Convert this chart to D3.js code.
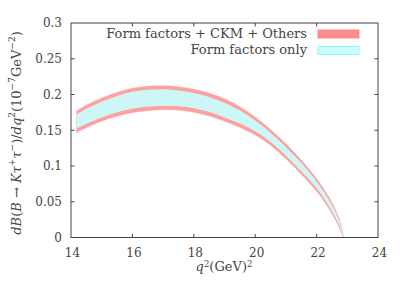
<!DOCTYPE html>
<html>
<head>
<meta charset="utf-8">
<script src="https://cdn.jsdelivr.net/npm/d3@7"></script>
<style>
  body { margin: 0; background: #fff; }
  text { font-family: 'DejaVu Serif', serif; fill: #444; }
</style>
</head>
<body>
<script>
// q^2 points and band edges
const q2 = [14.18, 14.5, 15, 15.5, 16, 16.5, 17, 17.5, 18, 18.5, 19, 19.5, 20, 20.5, 21, 21.5, 21.8, 22.1, 22.4, 22.65, 22.8, 22.87]
// form factors + CKM + others (outer band)
const redTop = [0.177, 0.185, 0.195, 0.203, 0.2087, 0.2115, 0.2122, 0.211, 0.2075, 0.202, 0.194, 0.183, 0.1685, 0.151, 0.131, 0.1085, 0.0935, 0.0764, 0.0566, 0.0354, 0.0174, 0.0027]
const redBot = [0.1466, 0.1535, 0.1625, 0.1695, 0.1745, 0.1772, 0.1785, 0.178, 0.1752, 0.170, 0.1625, 0.154, 0.1435, 0.129, 0.110, 0.0885, 0.0745, 0.0594, 0.0401, 0.0214, 0.0074, 0.0007]
// form factors only (inner band)
const cyanTop = [0.172, 0.180, 0.190, 0.198, 0.2037, 0.2065, 0.2072, 0.2055, 0.202, 0.1965, 0.1885, 0.1775, 0.1635, 0.1465, 0.1265, 0.1045, 0.0895, 0.0724, 0.0531, 0.0324, 0.0149, 0.0017]
const cyanBot = [0.152, 0.159, 0.168, 0.175, 0.180, 0.1827, 0.184, 0.1835, 0.1807, 0.1755, 0.168, 0.1595, 0.1485, 0.1335, 0.1145, 0.0925, 0.0785, 0.0634, 0.0436, 0.0244, 0.0094, 0.0009]

const xTicks = [14, 16, 18, 20, 22, 24]
const yTicks = [0, 0.05, 0.1, 0.15, 0.2, 0.25, 0.3]
const legendLabels = ['Form factors + CKM + Others', 'Form factors only']

const w = 407
const h = 285
const pL = 71, pR = 378, pT = 23, pB = 237.5

const xScale = d3.scaleLinear().domain([14, 24]).range([pL, pR])
const yScale = d3.scaleLinear().domain([0, 0.3]).range([pB, pT])

const svg = d3.select('body').append('svg')
    .attr('width', w)
    .attr('height', h)

// bands
const band = (hi, lo) => d3.area()
    .x((d, i) => xScale(q2[i]))
    .y0((d, i) => yScale(lo[i]))
    .y1((d, i) => yScale(hi[i]))
    .curve(d3.curveCatmullRom)

svg.append('path')
    .attr('d', band(redTop, redBot)(q2))
    .attr('fill', '#ffa0a0')
    .attr('stroke', '#ffa0a0')
    .attr('stroke-width', 0.3)

svg.append('path')
    .attr('d', band(cyanTop, cyanBot)(q2))
    .attr('fill', '#cdf7f7')

// frame, ticks inside on every side
const frame = svg.append('g').attr('stroke', '#444').attr('stroke-width', 1)
frame.append('rect')
    .attr('x', pL).attr('y', pT)
    .attr('width', pR - pL).attr('height', pB - pT)
    .attr('fill', 'none')

xTicks.slice(1, -1).forEach(t => {
    frame.append('line').attr('x1', xScale(t)).attr('x2', xScale(t)).attr('y1', pB).attr('y2', pB - 3.5)
    frame.append('line').attr('x1', xScale(t)).attr('x2', xScale(t)).attr('y1', pT).attr('y2', pT + 3.5)
})
yTicks.slice(1, -1).forEach(t => {
    frame.append('line').attr('x1', pL).attr('x2', pL + 3.5).attr('y1', yScale(t)).attr('y2', yScale(t))
    frame.append('line').attr('x1', pR).attr('x2', pR - 3.5).attr('y1', yScale(t)).attr('y2', yScale(t))
})

svg.selectAll('.xt')
    .data(xTicks)
    .enter()
    .append('text')
    .attr('x', d => xScale(d) + 1.5)
    .attr('y', 257)
    .attr('text-anchor', 'middle')
    .attr('font-size', 12)
    .text(d => d)

svg.selectAll('.yt')
    .data(yTicks)
    .enter()
    .append('text')
    .attr('x', 62)
    .attr('y', d => yScale(d) + 4.4)
    .attr('text-anchor', 'end')
    .attr('font-size', 12)
    .text(d => d)

// x title
const xt = svg.append('text')
    .attr('x', 224)
    .attr('y', 271)
    .attr('text-anchor', 'middle')
    .attr('font-size', 13)
xt.append('tspan').attr('font-style', 'italic').text('q')
xt.append('tspan').attr('font-size', 8.5).attr('dy', -4.5).text('2')
xt.append('tspan').attr('dy', 4.5).text('(GeV)')
xt.append('tspan').attr('font-size', 8.5).attr('dy', -4.5).text('2')

// y title
const yt = svg.append('text')
    .attr('transform', 'translate(21,133) rotate(-90)')
    .attr('text-anchor', 'middle')
    .attr('font-size', 13)
const parts = [
    ['dB', 'i'], ['(', ''], ['B', 'i'], [' → ', ''], ['K', 'i'], ['τ', 'i'], ['+', 's'], ['τ', 'i'], ['−', 's'],
    [')/', ''], ['dq', 'i'], ['2', 's'], ['(10', ''], ['−7', 's'], ['GeV', ''], ['−2', 's'], [')', '']
]
let raised = false
parts.forEach(([s, k]) => {
    const ts = yt.append('tspan').text(s)
    if (k === 'i') ts.attr('font-style', 'italic')
    if (k === 's') {
        ts.attr('font-size', 9)
        if (!raised) { ts.attr('dy', -6); raised = true }
    } else if (raised) { ts.attr('dy', 6); raised = false }
})

// legend
const legendColors = [['#ff8c8c', '#ff7a7a'], ['#ccffff', '#80f0f0']]
legendLabels.forEach((lab, i) => {
    const cy = 34 + i * 16.3
    svg.append('text')
        .attr('x', 307)
        .attr('y', cy + 3.8)
        .attr('text-anchor', 'end')
        .attr('font-size', 13)
        .text(lab)
    svg.append('rect')
        .attr('x', 318).attr('y', cy - 4)
        .attr('width', 41).attr('height', 8)
        .attr('fill', legendColors[i][0])
        .attr('stroke', legendColors[i][1])
        .attr('stroke-width', 0.8)
})
</script>
</body>
</html>
